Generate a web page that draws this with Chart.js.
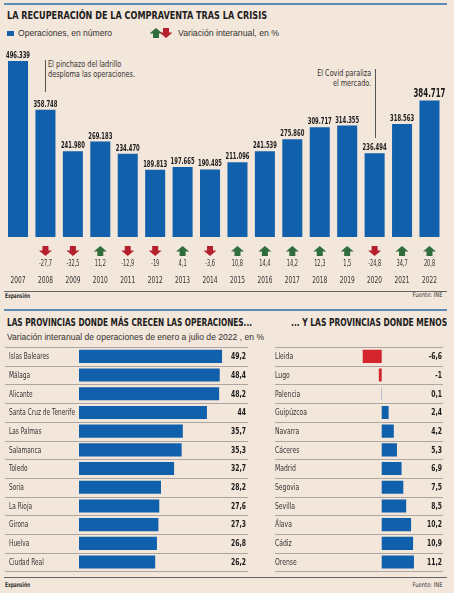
<!DOCTYPE html>
<html>
<head>
<meta charset="utf-8">
<script src="https://cdn.jsdelivr.net/npm/chart.js@4.4.1/dist/chart.umd.min.js"></script>
<style>
  html, body { margin: 0; padding: 0; }
  body { width: 454px; height: 593px; background: #f3e6da; position: relative; overflow: hidden;
         font-family: 'DejaVu Sans Condensed', 'DejaVu Sans', sans-serif; color: #222; }
  .abs { position: absolute; white-space: nowrap; }
  .rule { position: absolute; left: 4px; width: 443px; height: 2px; background: #5f8bb8; }
  .title { font-weight: bold; font-size: 11px; color: #1c1c1c; }
  .legend { font-size: 9.5px; color: #333; font-family: 'Liberation Sans', sans-serif; }
  .note { font-size: 9.5px; color: #333; line-height: 10px; }
  .vline { position: absolute; width: 1px; background: #555; }
  .foot { position: absolute; left: 4px; width: 443px; height: 1px; background: #666; }
  .small { font-size: 6.5px; color: #333; }
  canvas { position: absolute; }
</style>
</head>
<body>
<div class="rule" style="top:3px"></div>
<div class="abs title" data-w="260" style="left:7px; top:9px">LA RECUPERACIÓN DE LA COMPRAVENTA TRAS LA CRISIS</div>
<div class="abs" style="left:7px; top:31px; width:7px; height:5px; background:#1060ac"></div>
<div class="abs legend" data-w="94" style="left:18px; top:27px">Operaciones, en número</div>
<canvas id="legendArrows" width="22" height="12" style="left:150px; top:27px"></canvas>
<div class="abs legend" data-w="101" style="left:178px; top:27px">Variación interanual, en %</div>

<div class="vline" style="left:45px; top:60px; height:32px"></div>
<div class="abs note" data-w="87" style="left:48px; top:59px">El pinchazo del ladrillo<br>desploma las operaciones.</div>
<div class="vline" style="left:375px; top:69px; height:69px"></div>
<div class="abs note" data-w="54" data-o="right" style="right:83px; top:68px; text-align:right">El Covid paraliza<br>el mercado.</div>

<canvas id="mainChart" width="454" height="250" style="left:0; top:40px"></canvas>

<div class="foot" style="top:291px"></div>
<div class="abs small" data-w="25" style="left:5px; top:292px; font-weight:bold">Expansión</div>
<div class="abs small" data-w="30" data-o="right" style="right:11px; top:291px">Fuente: INE</div>

<div class="rule" style="top:309px"></div>
<div class="abs title" data-w="245" style="left:7px; top:316px; font-size:10.5px">LAS PROVINCIAS DONDE MÁS CRECEN LAS OPERACIONES...</div>
<div class="abs title" data-w="156" data-o="right" style="right:7px; top:316px; font-size:10.5px">... Y LAS PROVINCIAS DONDE MENOS</div>
<div class="abs legend" data-w="257" style="left:7px; top:331px">Variación interanual de operaciones de enero a julio de 2022 , en %</div>

<canvas id="masChart" width="252" height="230" style="left:0; top:345px"></canvas>
<canvas id="menosChart" width="186" height="230" style="left:268px; top:345px"></canvas>

<div class="foot" style="top:577px"></div>
<div class="abs small" data-w="25" style="left:5px; top:581px; font-weight:bold">Expansión</div>
<div class="abs small" data-w="30" data-o="right" style="right:11px; top:581px">Fuente: INE</div>

<script>
// Datos
const years = ['2007', '2008', '2009', '2010', '2011', '2012', '2013', '2014', '2015', '2016', '2017', '2018', '2019', '2020', '2021', '2022'];
const operaciones = [496339, 358748, 241980, 269183, 234470, 189813, 197665, 190485, 211096, 241539, 275860, 309717, 314355, 236494, 318563, 384717];
const variacion = [null, -27.7, -32.5, 11.2, -12.9, -19, 4.1, -3.6, 10.8, 14.4, 14.2, 12.3, 1.5, -24.8, 34.7, 20.8];

const provMas = ['Islas Baleares', 'Málaga', 'Alicante', 'Santa Cruz de Tenerife', 'Las Palmas', 'Salamanca', 'Toledo', 'Soria', 'La Rioja', 'Girona', 'Huelva', 'Ciudad Real'];
const valMas = [49.2, 48.4, 48.2, 44, 35.7, 35.3, 32.7, 28.2, 27.6, 27.3, 26.8, 26.2];

const provMenos = ['Lleida', 'Lugo', 'Palencia', 'Guipúzcoa', 'Navarra', 'Cáceres', 'Madrid', 'Segovia', 'Sevilla', 'Álava', 'Cádiz', 'Orense'];
const valMenos = [-6.6, -1, 0.1, 2.4, 4.2, 5.3, 6.9, 7.5, 8.5, 10.2, 10.9, 11.2];

const BLUE = '#1060ac';
const RED = '#d4242c';
const GREEN = '#2f6d3c';
const ARROW_RED = '#b51f2e';
const FONT = "'DejaVu Sans Condensed', 'DejaVu Sans', sans-serif";

Chart.defaults.font.family = FONT;
Chart.defaults.color = '#333';

// ajustar textos HTML a la anchura del original (fuente condensada)
document.querySelectorAll('[data-w]').forEach(el => {
    const w = el.getBoundingClientRect().width;
    el.style.transformOrigin = (el.dataset.o || 'left') + ' center';
    el.style.transform = 'scaleX(' + (+el.dataset.w / w) + ')';
});

function fmtMiles(v) {
    return String(v).replace(/\B(?=(\d{3})+(?!\d))/g, '.');
}
function fmtDec(v) {
    return String(v).replace('.', ',');
}

// factor horizontal para imitar la letra condensada
function squeeze(ctx, font, sample, target) {
    ctx.font = font;
    return target / ctx.measureText(sample).width;
}
function text(ctx, str, x, y, s, align) {
    ctx.save();
    ctx.translate(x, y);
    ctx.scale(s, 1);
    ctx.textAlign = align;
    ctx.fillText(str, 0, 0);
    ctx.restore();
}

function drawArrow(ctx, cx, cy, up) {
    ctx.save();
    ctx.fillStyle = up ? GREEN : ARROW_RED;
    const d = up ? 1 : -1;
    ctx.beginPath();
    ctx.moveTo(cx, cy - 5 * d);
    ctx.lineTo(cx + 6.5, cy + 0.5 * d);
    ctx.lineTo(cx + 3, cy + 0.5 * d);
    ctx.lineTo(cx + 3, cy + 5 * d);
    ctx.lineTo(cx - 3, cy + 5 * d);
    ctx.lineTo(cx - 3, cy + 0.5 * d);
    ctx.lineTo(cx - 6.5, cy + 0.5 * d);
    ctx.closePath();
    ctx.fill();
    ctx.restore();
}

// flechas de la leyenda
const lctx = document.getElementById('legendArrows').getContext('2d');
drawArrow(lctx, 6, 6, true);
drawArrow(lctx, 16, 6, false);

// etiquetas, flechas, variaciones y años del grafico principal
const mainExtras = {
    id: 'mainExtras',
    afterDatasetsDraw(chart) {
        const ctx = chart.ctx;
        const bottom = chart.chartArea.bottom;
        const xs = chart.scales.x;
        const meta = chart.getDatasetMeta(0);
        const fVal = 'bold 9px ' + FONT;
        const fBig = 'bold 13px ' + FONT;
        const fVar = '9px ' + FONT;
        const fYear = '9.5px ' + FONT;
        const sVal = squeeze(ctx, fVal, '358.748', 24);
        const sBig = squeeze(ctx, fBig, '384.717', 32);
        const sVar = squeeze(ctx, fVar, '-27,7', 13);
        const sYear = squeeze(ctx, fYear, '2007', 15);
        ctx.save();
        ctx.textBaseline = 'alphabetic';
        meta.data.forEach((bar, i) => {
            const last = i === operaciones.length - 1;
            ctx.fillStyle = '#1a1a1a';
            ctx.font = last ? fBig : fVal;
            text(ctx, fmtMiles(operaciones[i]), bar.x, bar.y - (last ? 4 : 3), last ? sBig : sVal, 'center');
        });
        ctx.textBaseline = 'middle';
        ctx.fillStyle = '#333';
        chart.data.labels.forEach((lab, i) => {
            const x = xs.getPixelForValue(i);
            const c = variacion[i];
            if (c !== null) {
                drawArrow(ctx, x, bottom + 14, c > 0);
                ctx.font = fVar;
                text(ctx, fmtDec(c), x, bottom + 27, sVar, 'center');
            }
            ctx.font = fYear;
            text(ctx, lab, x, bottom + 44, sYear, 'center');
        });
        ctx.restore();
    }
};

new Chart(document.getElementById('mainChart'), {
    type: 'bar',
    data: {
        labels: years,
        datasets: [{
            data: operaciones,
            backgroundColor: BLUE,
            barPercentage: 0.73,
            categoryPercentage: 1
        }]
    },
    options: {
        responsive: false,
        animation: false,
        layout: { padding: { left: 4.3, right: 10.8, top: 5.5, bottom: 53 } },
        plugins: { legend: { display: false }, tooltip: { enabled: false } },
        scales: {
            y: { display: false, min: 0, max: 540000 },
            x: { display: false }
        }
    },
    plugins: [mainExtras]
});

// lineas de separacion, nombres y valores de las tablas
function tablePlugin(labels, values, o) {
    return {
        id: 'tableExtras',
        beforeDatasetsDraw(chart) {
            const ctx = chart.ctx;
            const y = chart.scales.y;
            const step = y.getPixelForValue(1) - y.getPixelForValue(0);
            ctx.save();
            ctx.strokeStyle = '#9b9690';
            ctx.lineWidth = 0.8;
            for (let i = 0; i <= values.length; i++) {
                const yy = Math.round(y.getPixelForValue(i) - step / 2) + 0.5;
                ctx.beginPath();
                ctx.moveTo(o.x0, yy);
                ctx.lineTo(o.x1, yy);
                ctx.stroke();
            }
            ctx.restore();
        },
        afterDatasetsDraw(chart) {
            const ctx = chart.ctx;
            const y = chart.scales.y;
            const fName = '9px ' + FONT;
            const fVal = 'bold 9px ' + FONT;
            const sName = squeeze(ctx, fName, o.sample, o.sampleW);
            const sVal = squeeze(ctx, fVal, '49,2', 15);
            ctx.save();
            ctx.textBaseline = 'middle';
            ctx.fillStyle = '#333';
            ctx.font = fName;
            labels.forEach((lab, i) => {
                text(ctx, lab, o.x0 + o.labelInset, y.getPixelForValue(i) + 0.5, sName, 'left');
            });
            ctx.fillStyle = '#1a1a1a';
            ctx.font = fVal;
            values.forEach((v, i) => {
                text(ctx, fmtDec(v), o.xText, y.getPixelForValue(i) + 0.5, sVal, 'right');
            });
            ctx.restore();
        }
    };
}

function tableChart(id, labels, values, o) {
    return new Chart(document.getElementById(id), {
        type: 'bar',
        data: {
            labels: labels,
            datasets: [{
                data: values,
                backgroundColor: values.map(v => v < 0 ? RED : BLUE),
                barPercentage: 0.7,
                categoryPercentage: 1
            }]
        },
        options: {
            indexAxis: 'y',
            responsive: false,
            animation: false,
            layout: { padding: o.padding },
            plugins: { legend: { display: false }, tooltip: { enabled: false } },
            scales: {
                x: { display: false, min: o.min, max: o.max },
                y: { display: false }
            }
        },
        plugins: [tablePlugin(labels, values, o)]
    });
}

tableChart('masChart', provMas, valMas, {
    min: 0, max: 52,
    padding: { left: 79, right: 21.8, top: 2, bottom: 3.6 },
    x0: 5, x1: 248, xText: 246, labelInset: 4,
    sample: 'Santa Cruz de Tenerife', sampleW: 66
});

tableChart('menosChart', provMenos, valMenos, {
    min: -8, max: 14,
    padding: { left: 90.7, right: 32, top: 2, bottom: 3.6 },
    x0: 7, x1: 175, xText: 174, labelInset: 0,
    sample: 'Guipúzcoa', sampleW: 32
});
</script>
</body>
</html>
